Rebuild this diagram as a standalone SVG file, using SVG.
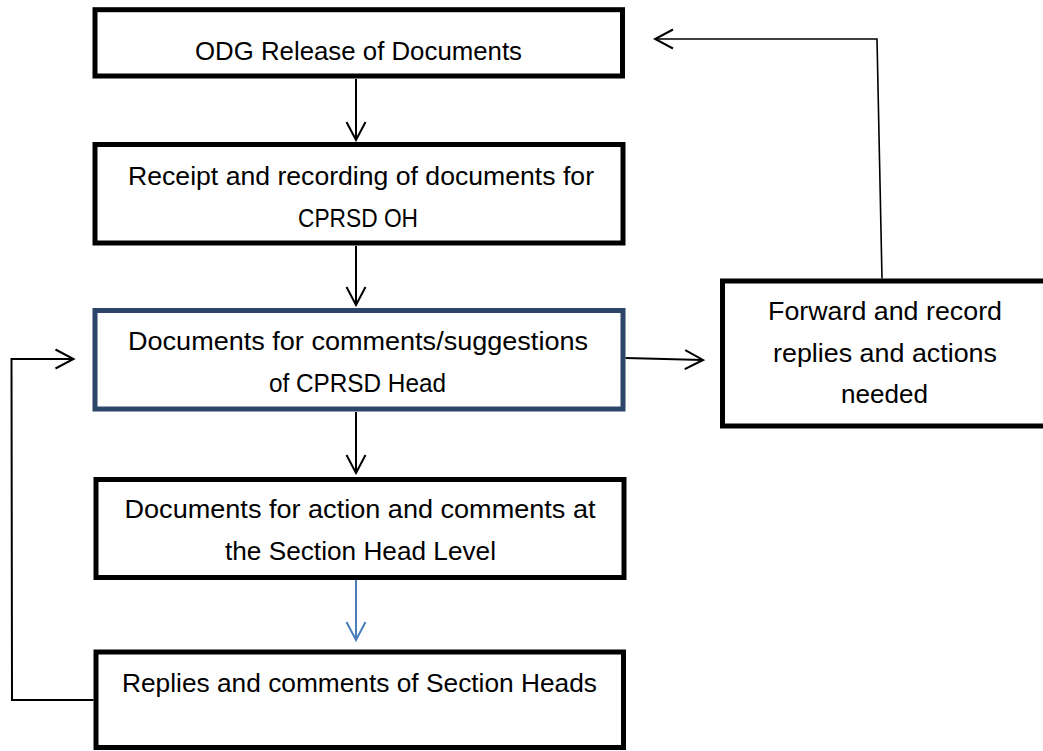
<svg xmlns="http://www.w3.org/2000/svg" width="1043" height="751" viewBox="0 0 1043 751">
  <style>
    .box { fill: #ffffff; stroke: #000000; stroke-width: 5; }
    .box-navy { fill: #ffffff; stroke: #2c4568; stroke-width: 5; }
    .label { font-family: "Liberation Sans", Arial, sans-serif; font-size: 25px; fill: #000000; text-anchor: middle; }
    .link { fill: none; stroke: #000000; stroke-width: 2; }
    .link-thin { fill: none; stroke: #000000; stroke-width: 1.6; }
    .link-blue { fill: none; stroke: #4a7ebb; stroke-width: 2; }
  </style>
  <defs>
    <marker id="head" markerUnits="userSpaceOnUse" markerWidth="22" markerHeight="24" viewBox="0 0 22 24" refX="20" refY="12" orient="auto">
      <path d="M2,2.5 L20,12 L2,21.5" fill="none" stroke="#000000" stroke-width="2"/>
    </marker>
    <marker id="head-blue" markerUnits="userSpaceOnUse" markerWidth="22" markerHeight="24" viewBox="0 0 22 24" refX="20" refY="12" orient="auto">
      <path d="M2,2.5 L20,12 L2,21.5" fill="none" stroke="#4a7ebb" stroke-width="2"/>
    </marker>
  </defs>

  <rect width="1043" height="751" fill="#ffffff"/>

  <g id="connectors">
    <line class="link" x1="356" y1="79" x2="356" y2="140" marker-end="url(#head)"/>
    <line class="link" x1="356" y1="246" x2="356" y2="305" marker-end="url(#head)"/>
    <line class="link" x1="356" y1="412" x2="356" y2="473" marker-end="url(#head)"/>
    <line class="link-blue" x1="356" y1="580" x2="356" y2="640" marker-end="url(#head-blue)"/>
    <line class="link" x1="625.5" y1="358" x2="703" y2="360" marker-end="url(#head)"/>
    <polyline class="link-thin" points="882,278.5 877,39 655,39" marker-end="url(#head)"/>
    <polyline class="link" points="93.5,700 12,700 11.5,359 73.5,359" marker-end="url(#head)"/>
  </g>

  <g id="odg-release">
    <rect class="box" x="95" y="9.7" width="527.5" height="66.3"/>
    <text class="label" x="358.5" y="60" textLength="327" lengthAdjust="spacingAndGlyphs">ODG Release of Documents</text>
  </g>

  <g id="receipt-recording">
    <rect class="box" x="95" y="144.5" width="528" height="98.5"/>
    <text class="label" x="361" y="185" textLength="466" lengthAdjust="spacingAndGlyphs">Receipt and recording of documents for</text>
    <text class="label" x="358" y="227" textLength="120" lengthAdjust="spacingAndGlyphs">CPRSD OH</text>
  </g>

  <g id="cprsd-head">
    <rect class="box-navy" x="95" y="310.5" width="528" height="98.5"/>
    <text class="label" x="358" y="350" textLength="460" lengthAdjust="spacingAndGlyphs">Documents for comments/suggestions</text>
    <text class="label" x="357.5" y="392" textLength="177" lengthAdjust="spacingAndGlyphs">of CPRSD Head</text>
  </g>

  <g id="section-head-level">
    <rect class="box" x="96" y="479.5" width="528" height="98"/>
    <text class="label" x="360" y="518" textLength="471" lengthAdjust="spacingAndGlyphs">Documents for action and comments at</text>
    <text class="label" x="360.5" y="560" textLength="271" lengthAdjust="spacingAndGlyphs">the Section Head Level</text>
  </g>

  <g id="section-head-replies">
    <rect class="box" x="96" y="652" width="527.5" height="95.5"/>
    <text class="label" x="359.5" y="692" textLength="475" lengthAdjust="spacingAndGlyphs">Replies and comments of Section Heads</text>
  </g>

  <g id="forward-record">
    <rect class="box" x="722.5" y="281" width="340" height="145"/>
    <text class="label" x="885" y="320" textLength="234" lengthAdjust="spacingAndGlyphs">Forward and record</text>
    <text class="label" x="885" y="362" textLength="224" lengthAdjust="spacingAndGlyphs">replies and actions</text>
    <text class="label" x="884.5" y="403" textLength="87" lengthAdjust="spacingAndGlyphs">needed</text>
  </g>
</svg>
